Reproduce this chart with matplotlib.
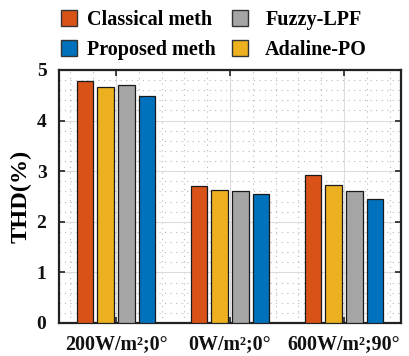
import numpy as np
import matplotlib
matplotlib.use("Agg")
import matplotlib.pyplot as plt
from matplotlib.ticker import MultipleLocator
from matplotlib.patches import Patch

plt.rcParams['font.family'] = ['Liberation Serif', 'DejaVu Serif']
plt.rcParams['font.weight'] = 'bold'

conditions = ['200W/m²;0°', '0W/m²;0°', '600W/m²;90°']
classical = [4.79, 2.71, 2.92]
adaline = [4.66, 2.63, 2.72]
fuzzy = [4.70, 2.60, 2.60]
proposed = [4.48, 2.54, 2.46]

series = [
    ('Classical meth', classical, '#D95319'),
    ('Adaline-PO', adaline, '#EDB120'),
    ('Fuzzy-LPF', fuzzy, '#A5A5A5'),
    ('Proposed meth', proposed, '#0072BD'),
]

fig = plt.figure(figsize=(4.10, 3.56), dpi=100)
ax = fig.add_axes([0.1439, 0.0927, 0.834, 0.7107])

x = np.arange(1, len(conditions) + 1)
n = len(series)
group_w = min(0.8, n / (n + 1.5))
slot = group_w / n
bar_w = 0.8 * slot
handles = {}
for i, (name, vals, col) in enumerate(series):
    off = (i - (n - 1) / 2) * slot
    ax.bar(x + off, vals, width=bar_w, color=col, edgecolor='#1a1a1a',
           linewidth=0.9, zorder=3)
    handles[name] = Patch(facecolor=col, edgecolor='#333333', linewidth=1.0)

ax.set_xlim(0.5, 3.5)
ax.set_ylim(0, 5)
ax.set_xticks(x)
ax.set_xticklabels(conditions, fontsize=14.4, fontweight='bold')
ax.yaxis.set_major_locator(MultipleLocator(1))
ax.yaxis.set_minor_locator(MultipleLocator(0.2))
ax.xaxis.set_minor_locator(MultipleLocator(0.2))
for lab in ax.get_yticklabels():
    lab.set_fontsize(14)
    lab.set_fontweight('bold')

ax.grid(which='major', color='#dcdcdc', linewidth=0.8, linestyle='-', zorder=0)
ax.grid(which='minor', color='#b8b8b8', linewidth=0.8, linestyle=(0, (1, 4)), zorder=0)
ax.set_axisbelow(True)

ax.tick_params(which='major', direction='in', length=4, width=1.2,
               top=True, right=True, colors='#222222', labelcolor='#111111')
ax.tick_params(axis='x', which='major', pad=8)
ax.tick_params(axis='y', which='major', pad=9)
ax.tick_params(which='minor', length=0, top=True, right=True)
for s in ax.spines.values():
    s.set_linewidth(1.6)
    s.set_color('#222222')

ax.set_ylabel('THD(%)', fontsize=17.5, fontweight='bold', labelpad=3.5)

# two legend columns, placed side by side above the axes
leg_prop = {'family': 'Liberation Serif', 'weight': 'bold', 'size': 14.5}
columns = [
    (['Classical meth', 'Proposed meth'], 61 / 410, 0.5),
    (['Fuzzy-LPF', 'Adaline-PO'], 232 / 410, 0.85),
]
for labels, x0, pad in columns:
    fig.legend([handles[k] for k in labels], labels, ncol=1, frameon=False,
               loc='upper left', bbox_to_anchor=(x0, 1 - 10 / 356),
               prop=leg_prop, handlelength=0.8, handleheight=0.8,
               handletextpad=pad, labelspacing=0.5,
               borderpad=0, borderaxespad=0)

fig.savefig('out.png', dpi=100)
